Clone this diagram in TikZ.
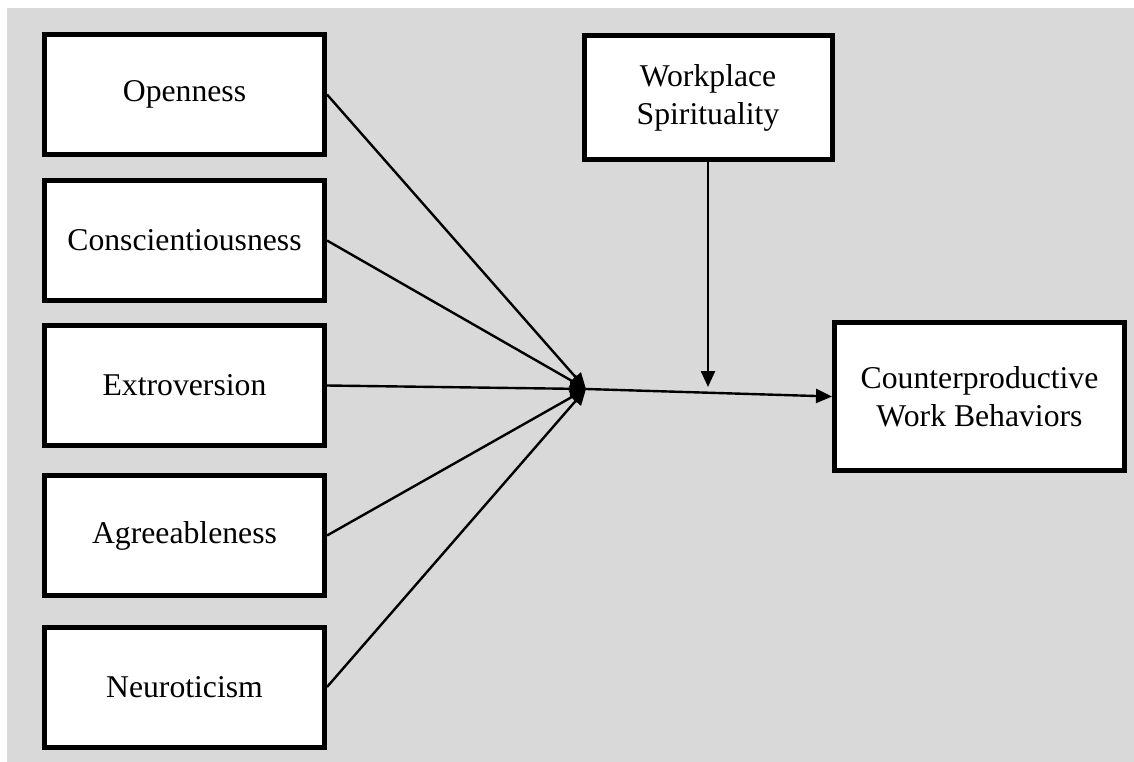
\documentclass[tikz,border=0pt]{standalone}
\usepackage{fontspec}
\setmainfont{Liberation Serif}
\usetikzlibrary{arrows.meta}
\begin{document}
\begin{tikzpicture}[x=1pt,y=-1pt,
  box/.style={draw=black,line width=5pt,fill=white,align=center,inner sep=0pt,
    font=\fontsize{31.7}{38}\selectfont},
  lbox/.style={box,minimum width=280pt,minimum height=120pt},
  conn/.style={line width=2.4pt,-{Triangle[length=16pt,width=14pt]}}]
\useasboundingbox (0,0) rectangle (1134,762);
\fill[fill={rgb,255:red,217;green,217;blue,217}] (7,8) rectangle (1134,762);
\node[lbox] (open) at (184.5,94.5) {Openness};
\node[lbox] (cons) at (184.5,240.5) {Conscientiousness};
\node[lbox] (extr) at (184.5,385.5) {Extroversion};
\node[lbox] (agre) at (184.5,535.5) {Agreeableness};
\node[lbox] (neur) at (184.5,687) {Neuroticism};
\node[box,minimum width=248pt,minimum height=124pt] (ws) at (708,97.5) {Workplace\\Spirituality};
\node[box,minimum width=290pt,minimum height=148pt] (cwb) at (979.5,396.5) {Counterproductive\\Work Behaviors};
\coordinate (hub) at (586,389);
\coordinate (wsend) at (708,387);
\foreach \n in {open,cons,extr,agre,neur}
  \draw[conn] (\n.east) -- (hub);
\draw[conn] (hub) -- (cwb.west);
\draw[conn] (ws.south) -- (wsend);
\end{tikzpicture}
\end{document}
